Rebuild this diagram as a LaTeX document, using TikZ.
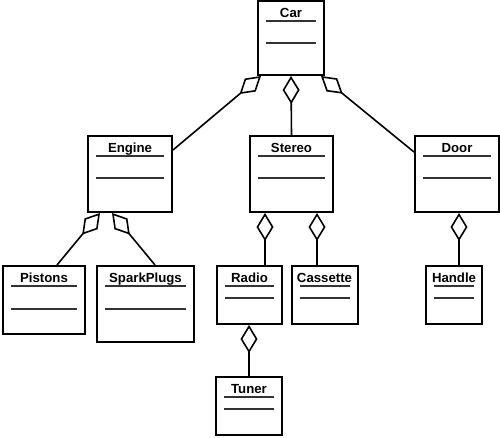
\documentclass[tikz,border=0pt]{standalone}
\usepackage{fontspec}
\setmainfont{Liberation Sans}
\usepackage{tikz}
\usetikzlibrary{arrows.meta}

\tikzset{
  cls/.style={draw,line width=2pt,inner sep=0pt,text height=16pt,
    font=\fontsize{13.2}{15}\selectfont\bfseries},
  sep/.style={draw=black!80,line width=1.1pt},
  agg/.style={line width=1.6pt,
    -{Diamond[open,length=28pt,width=17pt,line width=1.6pt]}}
}

\begin{document}
\begin{tikzpicture}[x=1pt,y=-1pt]
\useasboundingbox (0,0) rectangle (500,437);

% classes
\node[cls,minimum width=66pt,text depth=58pt] (car) at (291,38) {Car};
\node[cls,minimum width=84pt,text depth=60pt] (engine) at (130,174) {Engine};
\node[cls,minimum width=83pt,text depth=60pt] (stereo) at (291.5,174) {Stereo};
\node[cls,minimum width=84pt,text depth=60pt] (door) at (457,174) {Door};
\node[cls,minimum width=82pt,text depth=52pt] (pistons) at (44,300) {Pistons};
\node[cls,minimum width=97pt,text depth=60pt] (sparkplugs) at (145.5,304) {SparkPlugs};
\node[cls,minimum width=65pt,text depth=42pt] (radio) at (249.5,295) {Radio};
\node[cls,minimum width=66pt,text depth=42pt] (cassette) at (324.5,295) {Cassette};
\node[cls,minimum width=56pt,text depth=42pt] (handle) at (454,295) {Handle};
\node[cls,minimum width=66pt,text depth=42pt] (tuner) at (249,406) {Tuner};

% compartment lines
\foreach \n/\d in {car/43,engine/43,stereo/43,door/43,pistons/44,sparkplugs/44,
    radio/33,cassette/33,handle/33,tuner/33} {
  \draw[sep] ([xshift=9pt,yshift=-21pt]\n.north west) -- ([xshift=-9pt,yshift=-21pt]\n.north east);
  \draw[sep] ([xshift=9pt,yshift=-\d pt]\n.north west) -- ([xshift=-9pt,yshift=-\d pt]\n.north east);
}

% aggregations
\draw[agg] ([yshift=-15pt]engine.north east) -- ([xshift=4pt]car.south west);
\draw[agg] (stereo.north) -- (car.south);
\draw[agg] ([yshift=-17pt]door.north west) -- ([xshift=-4pt]car.south east);
\draw[agg] ([xshift=13pt]pistons.north) -- ([xshift=-30pt]engine.south);
\draw[agg] ([xshift=9.5pt]sparkplugs.north) -- ([xshift=-18pt]engine.south);
\draw[agg] ([xshift=15.5pt]radio.north) -- ([xshift=15.5pt]radio.north |- stereo.south);
\draw[agg] ([xshift=-7.5pt]cassette.north) -- ([xshift=-7.5pt]cassette.north |- stereo.south);
\draw[agg] (tuner.north) -- (tuner.north |- radio.south);
\draw[agg] ([xshift=5pt]handle.north) -- ([xshift=5pt]handle.north |- door.south);
\end{tikzpicture}
\end{document}
